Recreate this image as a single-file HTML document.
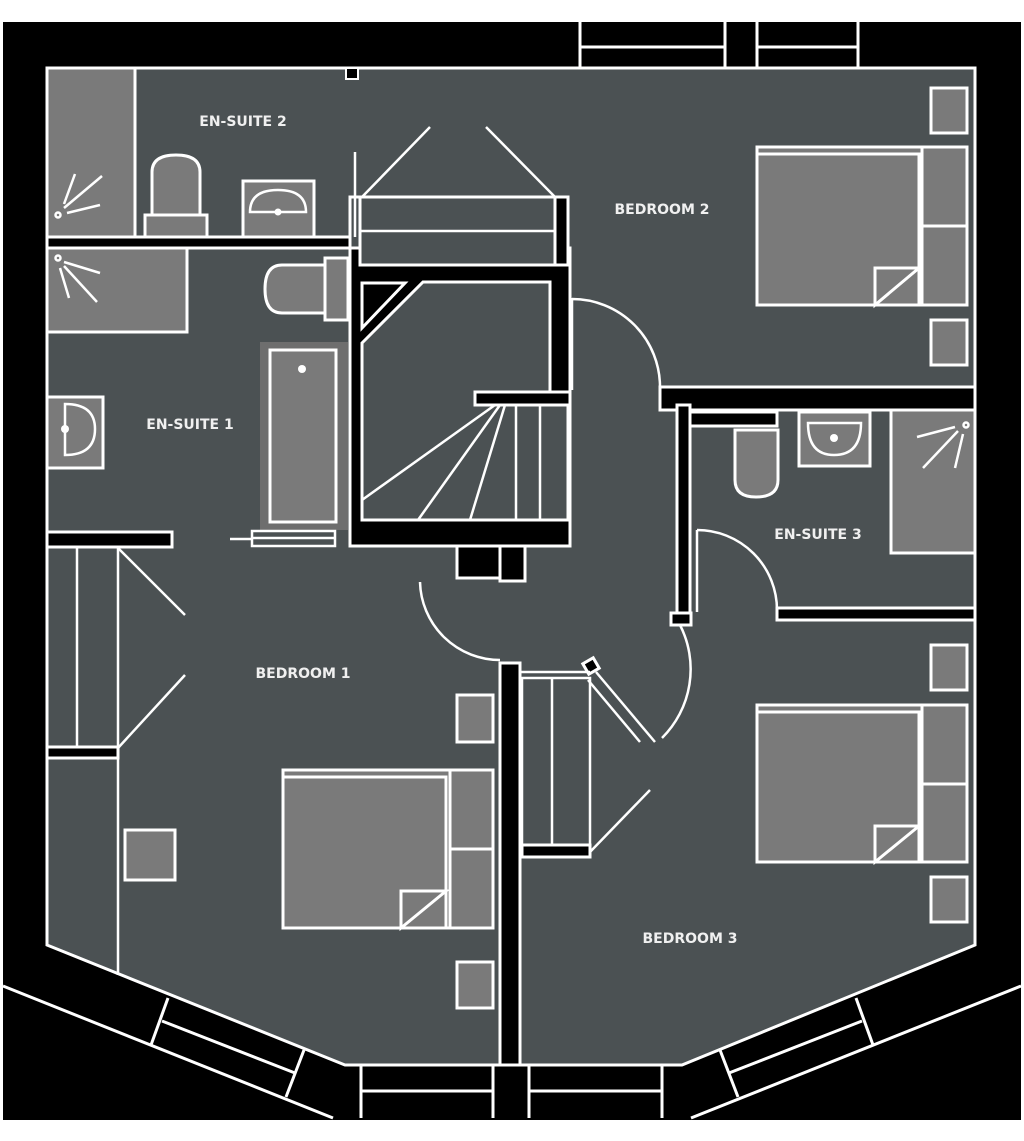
<!DOCTYPE html>
<html><head><meta charset="utf-8"><style>
html,body{margin:0;padding:0;background:#fff;}
svg{display:block;}
text{font-family:"DejaVu Sans","Liberation Sans",sans-serif;font-weight:bold;font-size:14px;fill:#f0f0f0;text-anchor:middle;}
</style></head><body>
<svg width="1024" height="1141" viewBox="0 0 1024 1141" xmlns="http://www.w3.org/2000/svg">
<rect x="3" y="22" width="1018" height="1098" fill="#000"/>
<g stroke="#fff" stroke-width="3" fill="none">
<line x1="3" y1="986" x2="333" y2="1118"/>
<line x1="1021" y1="986" x2="691" y2="1118"/>
<line x1="580" y1="22" x2="580" y2="68"/><line x1="725" y1="22" x2="725" y2="68"/>
<line x1="757" y1="22" x2="757" y2="68"/><line x1="858" y1="22" x2="858" y2="68"/>
<line x1="580" y1="47" x2="725" y2="47"/><line x1="757" y1="47" x2="858" y2="47"/>
<line x1="361" y1="1065" x2="361" y2="1118"/><line x1="493" y1="1065" x2="493" y2="1118"/>
<line x1="529" y1="1065" x2="529" y2="1118"/><line x1="662" y1="1065" x2="662" y2="1118"/>
<line x1="361" y1="1091" x2="493" y2="1091"/><line x1="529" y1="1091" x2="662" y2="1091"/>
<line x1="168" y1="998" x2="151" y2="1045"/><line x1="304" y1="1050" x2="286" y2="1097"/>
<line x1="162" y1="1021" x2="295" y2="1073"/>
<line x1="856" y1="998" x2="873" y2="1045"/><line x1="720" y1="1050" x2="738" y2="1097"/>
<line x1="862" y1="1021" x2="729" y2="1073"/>
</g>
<polygon points="47,68 975,68 975,945 682,1065 345,1065 47,945" fill="#4b5153" stroke="#fff" stroke-width="3"/>
<rect x="346" y="68" width="12" height="11" fill="#000" stroke="#fff" stroke-width="2"/>

<g stroke="#fff" stroke-width="3">
<g fill="#7a7a7a">
<rect x="47" y="68" width="88" height="169"/>
<rect x="47" y="248" width="140" height="84"/>
<rect x="47" y="397" width="56" height="71"/>
<rect x="243" y="181" width="71" height="56"/>
<rect x="145" y="215" width="62" height="22"/>
<path d="M152,215 V172 Q152,155 176,155 Q200,155 200,172 V215 Z"/>
<rect x="325" y="258" width="23" height="62"/>
<path d="M325,265 H282 Q265,265 265,289 Q265,313 282,313 H325 Z"/>
<rect x="891" y="410" width="84" height="143"/>
<rect x="799" y="412" width="71" height="54"/>
<path d="M735,430 V480 Q735,497 756,497 Q778,497 778,480 V430 Z"/>
<rect x="757" y="147" width="210" height="158"/>
<rect x="757" y="154" width="162" height="151"/>
<rect x="922" y="147" width="45" height="79"/><rect x="922" y="226" width="45" height="79"/>
<rect x="931" y="88" width="36" height="45"/><rect x="931" y="320" width="36" height="45"/>
<rect x="757" y="705" width="210" height="157"/>
<rect x="757" y="712" width="162" height="150"/>
<rect x="922" y="705" width="45" height="79"/><rect x="922" y="784" width="45" height="78"/>
<rect x="931" y="645" width="36" height="45"/><rect x="931" y="877" width="36" height="45"/>
<rect x="283" y="770" width="210" height="158"/>
<rect x="283" y="777" width="163" height="151"/>
<rect x="450" y="770" width="43" height="79"/><rect x="450" y="849" width="43" height="79"/>
<rect x="457" y="695" width="36" height="47"/><rect x="457" y="962" width="36" height="46"/>
<rect x="125" y="830" width="50" height="50"/>
<polygon points="875,305 875,268 919,268"/>
<polygon points="875,862 875,826 919,826"/>
<polygon points="401,928 401,891 446,891"/>
</g>
<rect x="260" y="342" width="88" height="188" fill="#6e6e6e" stroke="none"/>
<rect x="270" y="350" width="66" height="172" fill="#7a7a7a"/>
</g>
<g fill="#fff">
<circle cx="302" cy="369" r="4"/><circle cx="278" cy="212" r="3.5"/><circle cx="65" cy="429" r="4"/><circle cx="834" cy="438" r="4"/>
</g>
<g stroke="#fff" stroke-width="2.5" fill="none">
<path d="M250,212 Q250,190 278,190 Q306,190 306,212 Z"/>
<path d="M65,404 Q95,404 95,429 Q95,455 65,455 Z"/>
<path d="M808,423 H861 Q861,455 834,455 Q808,455 808,423 Z"/>
<circle cx="58" cy="215" r="2.5"/><line x1="64" y1="204" x2="75" y2="174"/><line x1="64" y1="208" x2="102" y2="176"/><line x1="67" y1="213" x2="100" y2="205"/>
<circle cx="58" cy="258" r="2.5"/><line x1="64" y1="262" x2="100" y2="273"/><line x1="64" y1="266" x2="97" y2="302"/><line x1="60" y1="268" x2="69" y2="298"/>
<circle cx="966" cy="425" r="2.5"/><line x1="955" y1="427" x2="917" y2="437"/><line x1="958" y1="431" x2="923" y2="468"/><line x1="963" y1="434" x2="955" y2="468"/>
</g>

<g fill="#000" stroke="#fff" stroke-width="3">
<rect x="47" y="237" width="303" height="11"/>
<rect x="350" y="197" width="10" height="60" fill="none"/>
<rect x="660" y="387" width="315" height="23"/>
<rect x="677" y="405" width="13" height="210"/>
<rect x="690" y="412" width="87" height="14"/>
<rect x="777" y="608" width="198" height="12"/>
<rect x="500" y="663" width="20" height="402"/>
<rect x="47" y="532" width="125" height="15"/>
<rect x="47" y="747" width="71" height="11"/>
<rect x="522" y="845" width="68" height="12"/>
<rect x="350" y="248" width="220" height="298"/>
<rect x="555" y="197" width="13" height="68"/>
<rect x="457" y="546" width="43" height="32"/>
<rect x="500" y="546" width="25" height="35"/>
<rect x="671" y="613" width="20" height="12"/>
<rect x="585" y="660" width="12" height="12" transform="rotate(-30 591 666)"/>
</g>
<g stroke="#fff" stroke-width="3" fill="#4b5153">
<rect x="360" y="197" width="195" height="68"/>
<polygon points="362,343 423,282 550,282 550,392 475,392 475,405 568,405 568,520 362,520"/>
<polygon points="362,283 405,283 362,328" fill="#000"/>
<rect x="475" y="392" width="95" height="13" fill="#000"/>
</g>
<g stroke="#fff" stroke-width="2.5" fill="none">
<line x1="360" y1="231" x2="555" y2="231"/>
<line x1="362" y1="197" x2="430" y2="127"/><line x1="486" y1="127" x2="555" y2="197"/>
<line x1="355" y1="152" x2="355" y2="237"/>
<line x1="495" y1="405" x2="362" y2="500"/><line x1="500" y1="405" x2="418" y2="520"/><line x1="505" y1="405" x2="470" y2="520"/>
<line x1="516" y1="405" x2="516" y2="520"/><line x1="540" y1="405" x2="540" y2="520"/>
<path d="M572,298 V390 M572,299 A88,88 0 0 1 660,387"/>
<path d="M697,530 V612 M697,530 A80,80 0 0 1 777,610"/>
<path d="M420,582 A80,80 0 0 0 500,660"/>
<path d="M680,625 A97,97 0 0 1 662,738"/>
<line x1="596" y1="672" x2="655" y2="742"/><line x1="588" y1="680" x2="640" y2="742"/>
<line x1="520" y1="672" x2="590" y2="672"/>
<rect x="522" y="678" width="68" height="167"/>
<line x1="552" y1="678" x2="552" y2="845"/>
<line x1="590" y1="852" x2="650" y2="790"/>
<line x1="118" y1="548" x2="118" y2="975"/><line x1="77" y1="548" x2="77" y2="747"/>
<line x1="118" y1="548" x2="185" y2="615"/><line x1="118" y1="748" x2="185" y2="675"/>
<rect x="252" y="531" width="83" height="15"/><line x1="252" y1="538" x2="335" y2="538"/>
<line x1="230" y1="539" x2="252" y2="539"/>
</g>
<text x="243" y="126">EN-SUITE 2</text>
<text x="662" y="214">BEDROOM 2</text>
<text x="190" y="429">EN-SUITE 1</text>
<text x="818" y="539">EN-SUITE 3</text>
<text x="303" y="678">BEDROOM 1</text>
<text x="690" y="943">BEDROOM 3</text>
</svg>
</body></html>
